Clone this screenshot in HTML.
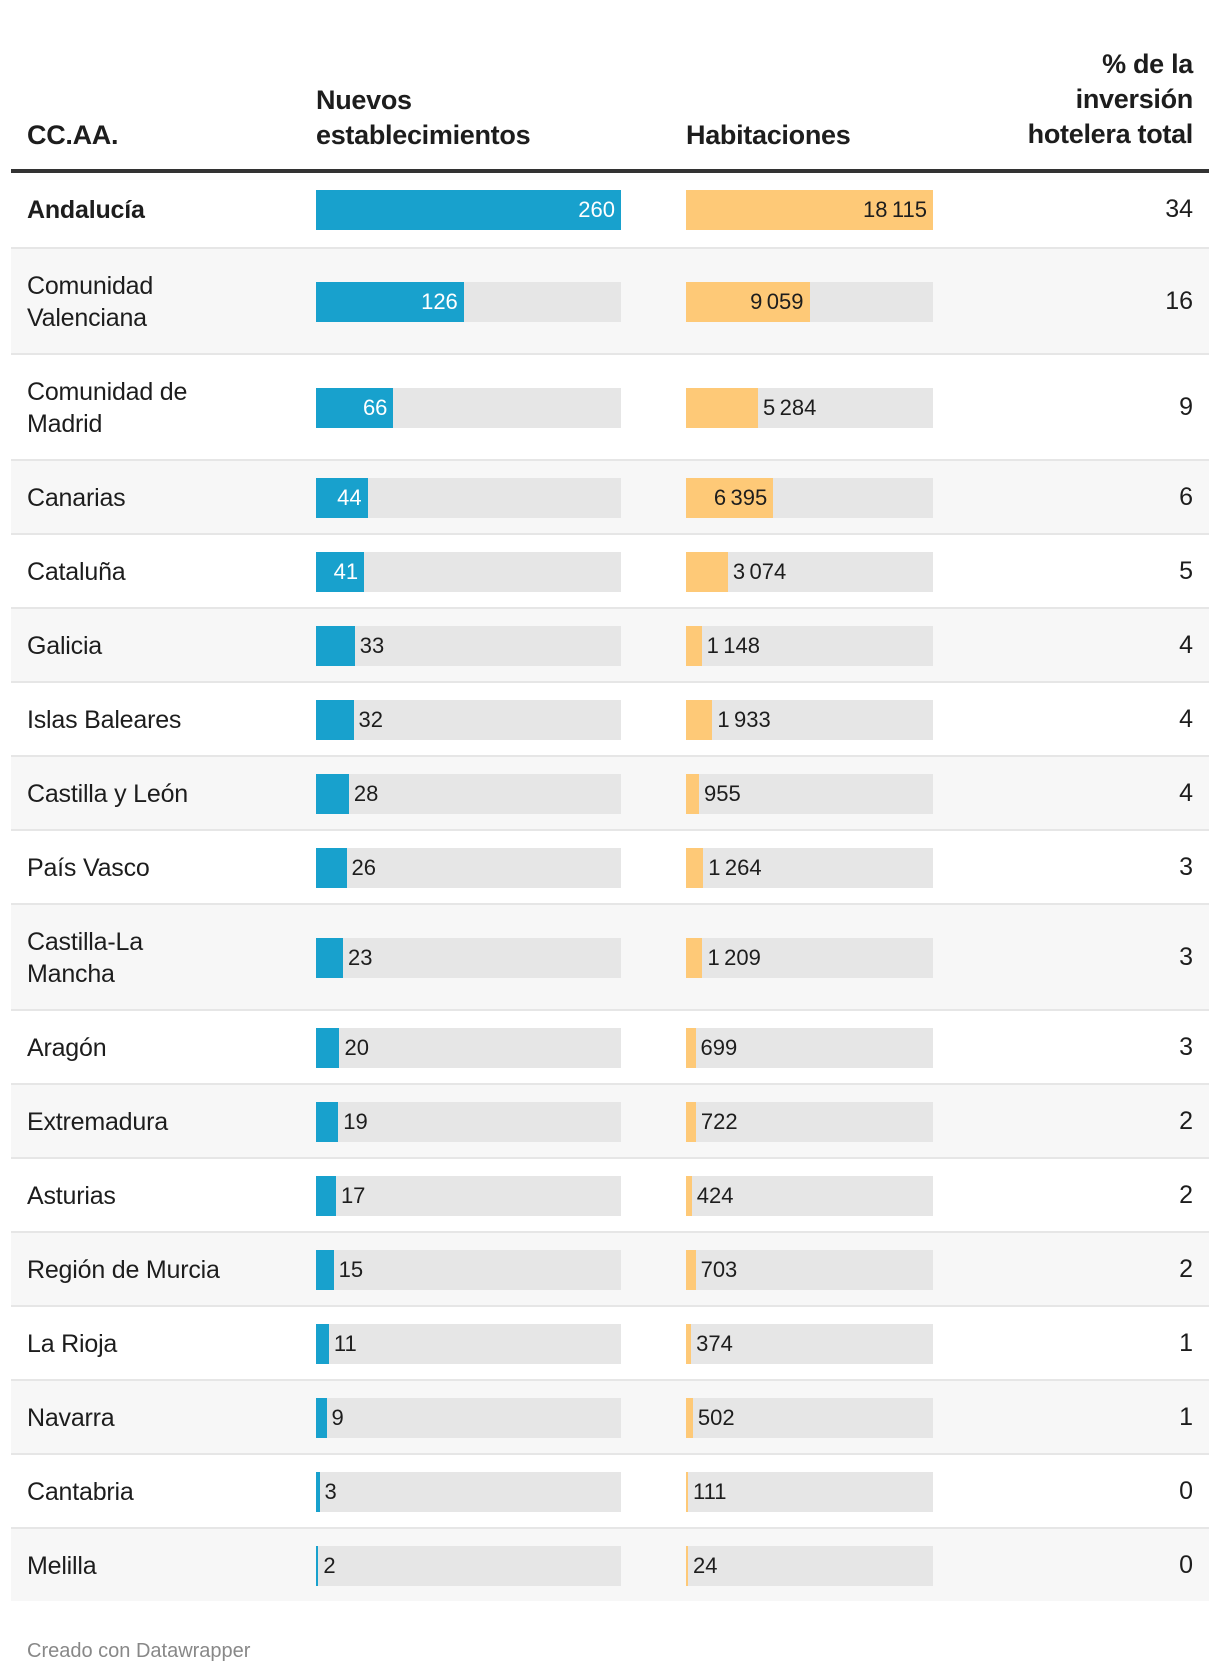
<!DOCTYPE html>
<html><head><meta charset="utf-8">
<style>
body{margin:0;width:1220px;height:1676px;background:#fff;font-family:"Liberation Sans",Arial,sans-serif;color:#1d1d1d;position:relative;overflow:hidden}
.abs{position:absolute}
.hd{position:absolute;font-weight:bold;font-size:27px;line-height:35px;color:#1d1d1d;letter-spacing:-0.3px}
.row{position:absolute;left:11px;width:1198px;border-top:2px solid #e6e6e6;box-sizing:border-box}
.name{position:absolute;left:16px;font-size:25px;line-height:32px;letter-spacing:-0.2px}
.bg{position:absolute;height:40px;background:#e6e6e6}
.bar{position:absolute;height:40px}
.lbl{position:absolute;font-size:22px;line-height:40px}
.pct{position:absolute;right:16px;font-size:25px;text-align:right}
</style></head>
<body>
<div class="hd" style="left:27px;top:118px">CC.AA.</div>
<div class="hd" style="left:316px;top:83px">Nuevos<br>establecimientos</div>
<div class="hd" style="left:686px;top:118px">Habitaciones</div>
<div class="hd" style="right:27px;top:47px;text-align:right">% de la<br>inversión<br>hotelera total</div>
<div class="abs" style="left:11px;top:169px;width:1198px;height:4px;background:#333"></div>
<div id="tbl"></div>
<div class="abs" style="left:27px;top:1640px;font-size:20px;color:#888">Creado con Datawrapper</div>
<script>
const regions=["Andalucía","Comunidad Valenciana","Comunidad de Madrid","Canarias","Cataluña","Galicia","Islas Baleares","Castilla y León","País Vasco","Castilla-La Mancha","Aragón","Extremadura","Asturias","Región de Murcia","La Rioja","Navarra","Cantabria","Melilla"];
const nameLines=[["Andalucía"],["Comunidad","Valenciana"],["Comunidad de","Madrid"],["Canarias"],["Cataluña"],["Galicia"],["Islas Baleares"],["Castilla y León"],["País Vasco"],["Castilla-La","Mancha"],["Aragón"],["Extremadura"],["Asturias"],["Región de Murcia"],["La Rioja"],["Navarra"],["Cantabria"],["Melilla"]];
const establecimientos=[260,126,66,44,41,33,32,28,26,23,20,19,17,15,11,9,3,2];
const habitaciones=[18115,9059,5284,6395,3074,1148,1933,955,1264,1209,699,722,424,703,374,502,111,24];
const inversion=[34,16,9,6,5,4,4,4,3,3,3,2,2,2,1,1,0,0];

const estMax=260, habMax=18115;
const bX=316,bW=305,oX=686,oW=247;
const xEst=v=>v/estMax*bW, xHab=v=>v/habMax*oW;
const fmt=v=>v>=1000?String(v).replace(/\B(?=(\d{3})+(?!\d))/g,"\u2009"):String(v);
const tbl=document.getElementById('tbl');
let y=173;
function addBar(row,x0,full,w,color,txt,inColor,h,isFirst){
  const top=(h-40)/2;
  if(!isFirst){const bg=document.createElement('div');bg.className='bg';
  
  
  bg.style.cssText=`left:${x0-11}px;top:${top}px;width:${full}px`;row.appendChild(bg);}
  const b=document.createElement('div');b.className='bar';
  
  
  b.style.cssText=`left:${x0-11}px;top:${top}px;width:${Math.max(w,2)}px;background:${color}`;row.appendChild(b);
  const l=document.createElement('div');l.className='lbl';l.textContent=txt;
  
  
  const need=txt.length*13+14;
  if(w>need){l.style.cssText=`left:${x0-11}px;width:${w-6}px;text-align:right;top:${top}px;color:${inColor}`;}
  else{l.style.cssText=`left:${x0-11+Math.max(w,2)+5}px;top:${top}px;color:#1d1d1d`;}
  row.appendChild(l);
}
regions.forEach((r,i)=>{
  const lines=nameLines[i];const h=lines.length>1?106:74;
  const row=document.createElement('div');row.className='row';
  
  
  row.style.top=y+'px';row.style.height=h+'px';
  row.style.background=i%2?'#f7f7f7':'#fff';
  if(i===0)row.style.borderTop='none';
  const n=document.createElement('div');n.className='name';
  
  
  n.innerHTML=lines.join('<br>');
  n.style.top=(h-32*lines.length)/2+'px';
  if(i===0)n.style.fontWeight='bold';
  row.appendChild(n);
  addBar(row,bX,bW,xEst(establecimientos[i]),'#18a1cd',fmt(establecimientos[i]),'#fff',h,i===0);
  addBar(row,oX,oW,xHab(habitaciones[i]),'#fec977',fmt(habitaciones[i]),'#1d1d1d',h,i===0);
  const p=document.createElement('div');p.className='pct';p.textContent=inversion[i];
  
  
  p.style.top=(h-30)/2+'px';row.appendChild(p);
  tbl.appendChild(row);y+=h;
});
</script>
</body></html>
